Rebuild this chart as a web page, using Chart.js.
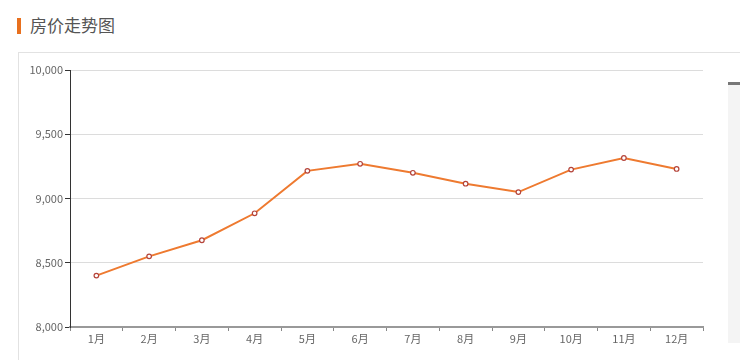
<!DOCTYPE html>
<html>
<head>
<meta charset="utf-8">
<script src="https://cdn.jsdelivr.net/npm/chart.js@4.4.0/dist/chart.umd.min.js"></script>
<style>
    html, body { margin: 0; padding: 0; background: #fff; }
    body { width: 740px; height: 360px; position: relative; overflow: hidden;
           font-family: "Noto Sans CJK SC", "Noto Sans", sans-serif; }
    .title { position: absolute; left: 17px; top: 15px; height: 20px; line-height: 20px;
             font-size: 17px; color: #555; padding-left: 13px; }
    .title:before { content: ''; position: absolute; left: 0; top: 3px; width: 4px; height: 16px; background: #e8701e; }
    .panel { position: absolute; left: 18px; top: 52px; width: 740px; height: 320px;
             border-left: 1px solid #e2e2e2; border-top: 1px solid #e2e2e2; }
    .side { position: absolute; left: 728px; top: 82px; width: 12px; height: 258px;
            background: #f4f4f4; border-top: 3px solid #777; }
    #wrap { position: absolute; left: 0; top: 0; width: 740px; height: 360px; }
</style>
</head>
<body>
<div class="title">房价走势图</div>
<div class="panel"></div>
<div class="side"></div>
<div id="wrap"><canvas id="priceChart"></canvas></div>
<script>
const months = ['1月', '2月', '3月', '4月', '5月', '6月', '7月', '8月', '9月', '10月', '11月', '12月'];
const prices = [8400, 8550, 8675, 8885, 9215, 9270, 9200, 9115, 9050, 9225, 9315, 9230];
const yTicks = [8000, 8500, 9000, 9500, 10000];

document.addEventListener('DOMContentLoaded', function() {
    const ctx = document.getElementById('priceChart').getContext('2d');
    new Chart(ctx, {
        type: 'line',
        data: {
            labels: months,
            datasets: [{
                label: '房价',
                data: prices,
                borderColor: '#ee7a30',
                borderWidth: 2,
                backgroundColor: '#ffffff',
                pointBorderColor: '#b5443a',
                pointBackgroundColor: '#ffffff',
                pointBorderWidth: 1.2,
                pointRadius: 2.3,
                tension: 0
            }]
        },
        options: {
            responsive: true,
            maintainAspectRatio: false,
            animation: false,
            layout: {
                padding: { left: 0, top: 70, right: 37, bottom: 0 }
            },
            plugins: {
                legend: { display: false },
                tooltip: { enabled: false }
            },
            scales: {
                x: {
                    offset: true,
                    afterFit: function(scale) { scale.height = 33; },
                    grid: {
                        offset: true,
                        drawOnChartArea: false,
                        color: '#888',
                        tickLength: 4
                    },
                    border: { color: '#999', width: 2 },
                    ticks: {
                        color: '#666',
                        padding: 1,
                        maxRotation: 0,
                        font: { size: 11, family: '"Noto Sans CJK SC", sans-serif' }
                    }
                },
                y: {
                    min: 8000,
                    max: 10000,
                    afterFit: function(scale) { scale.width = 70; },
                    afterBuildTicks: function(scale) {
                        scale.ticks = yTicks.map(v => ({ value: v }));
                    },
                    grid: {
                        color: '#dcdcdc',
                        tickColor: '#333',
                        tickLength: 5
                    },
                    border: { color: '#333', width: 1 },
                    ticks: {
                        color: '#666',
                        padding: 2,
                        font: { size: 11, family: '"Noto Sans CJK SC", sans-serif' },
                        callback: function(value) {
                            return value.toLocaleString('en-US');
                        }
                    }
                }
            }
        }
    });
});
</script>
</body>
</html>
